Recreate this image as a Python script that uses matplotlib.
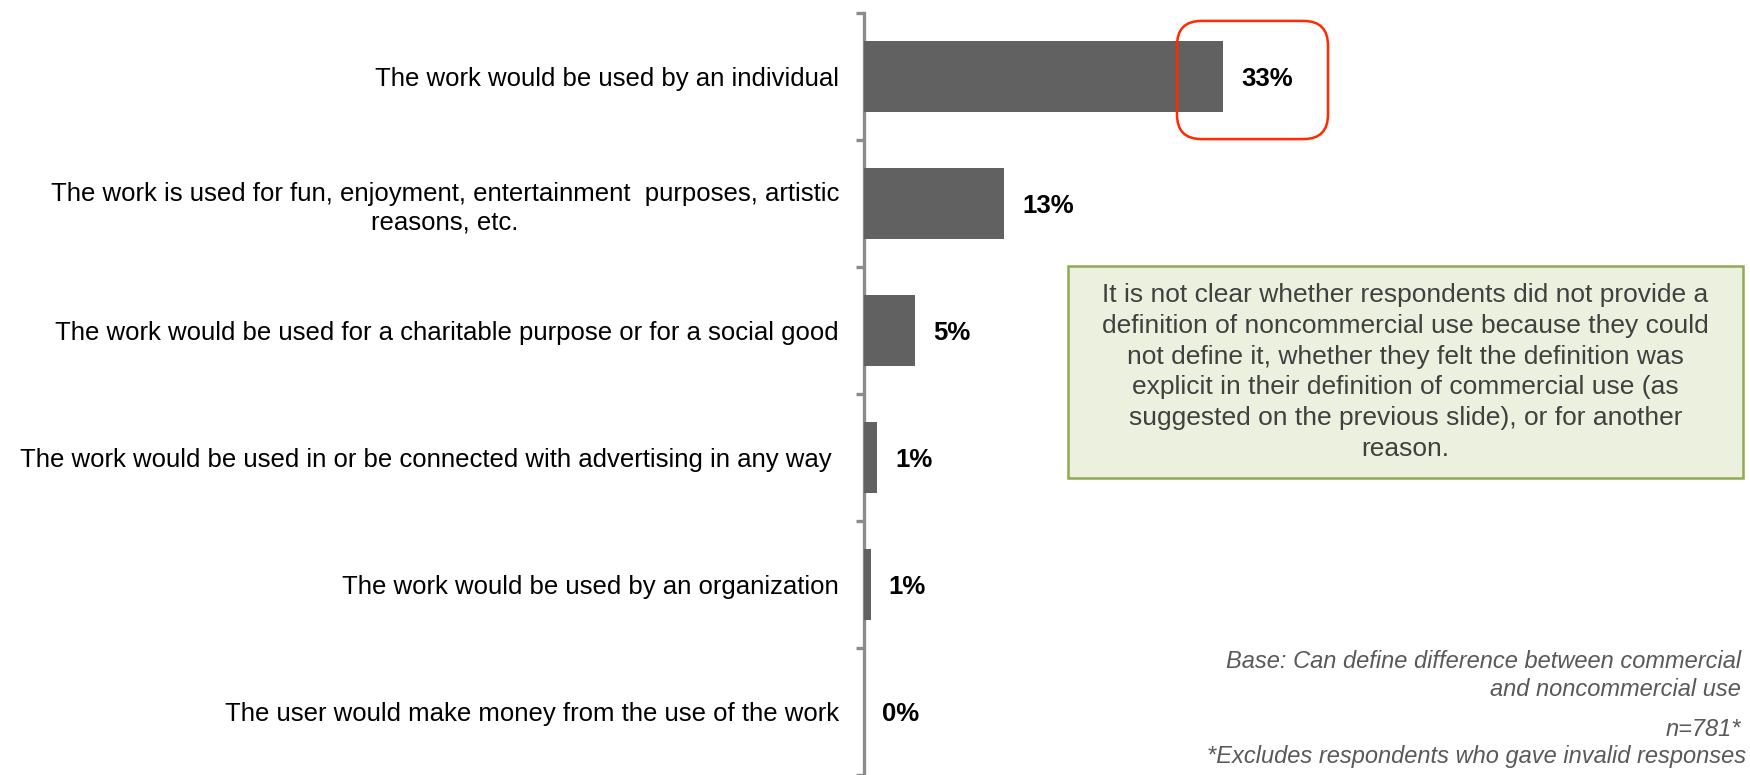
import matplotlib
matplotlib.use("Agg")
import matplotlib.pyplot as plt
from matplotlib.patches import FancyBboxPatch, Rectangle
from matplotlib import font_manager

categories = [
    "The work would be used by an individual",
    "The work is used for fun, enjoyment, entertainment  purposes, artistic\nreasons, etc.",
    "The work would be used for a charitable purpose or for a social good",
    "The work would be used in or be connected with advertising in any way ",
    "The work would be used by an organization",
    "The user would make money from the use of the work",
]
values = [33.0, 12.9, 4.7, 1.2, 0.6, 0.0]
value_labels = ["33%", "13%", "5%", "1%", "1%", "0%"]

note_text = ("It is not clear whether respondents did not provide a\n"
             "definition of noncommercial use because they could\n"
             "not define it, whether they felt the definition was\n"
             "explicit in their definition of commercial use (as\n"
             "suggested on the previous slide), or for another\n"
             "reason.")
base_lines = ["Base: Can define difference between commercial",
              "and noncommercial use"]
n_line = "n=781*"
excl_line = "*Excludes respondents who gave invalid responses"

names = {f.name for f in font_manager.fontManager.ttflist}
narrow = "Liberation Sans Narrow" if "Liberation Sans Narrow" in names else "Liberation Sans"

W, H = 1750, 775
fig = plt.figure(figsize=(W / 100, H / 100), dpi=100)
ax_left = 864 / W
ax_top = 13 / H
ax = fig.add_axes([ax_left, 0.0, 1 - ax_left, 1 - ax_top])

bar_color = "#616161"
y = list(range(len(categories)))
ax.barh(y, values, height=0.56, color=bar_color, zorder=3)
ax.set_ylim(len(categories) - 0.5, -0.5)
px_per_unit = 10.88
ax.set_xlim(0, (W - 864) / px_per_unit)

for s in ["top", "right", "bottom"]:
    ax.spines[s].set_visible(False)
ax.spines["left"].set_color("#8c8c8c")
ax.spines["left"].set_linewidth(2.4)
ax.set_xticks([])
ax.set_yticks(y)
ax.set_yticklabels(categories, family=[narrow, "DejaVu Sans"], fontsize=18.5,
                   color="#000000", linespacing=1.22, multialignment="center")
ax.tick_params(axis="y", which="major", length=0, pad=18)
ax.set_yticks([i - 0.5 for i in range(len(categories) + 1)], minor=True)
ax.tick_params(axis="y", which="minor", length=6, width=2.4, color="#8c8c8c")

for yi, v, lab in zip(y, values, value_labels):
    ax.annotate(lab, xy=(v, yi), xytext=(13, -2), textcoords="offset points",
                ha="left", va="center", fontsize=18.5, fontweight="bold",
                family=[narrow, "DejaVu Sans"], color="#000000")

# red rounded highlight box (figure pixel coords)
red = FancyBboxPatch((1177 / W + 0.012, 1 - 139 / H + 0.027),
                     (1328 - 1177) / W - 0.024, (139 - 21) / H - 0.054,
                     boxstyle="round,pad=0.012,rounding_size=0.014",
                     transform=fig.transFigure, fill=False,
                     edgecolor="#ff2a00", linewidth=1.8, mutation_aspect=W / H)
fig.add_artist(red)

# green note box
gx0, gx1, gy0, gy1 = 1068, 1743, 266, 478
box = Rectangle((gx0 / W, 1 - gy1 / H), (gx1 - gx0) / W, (gy1 - gy0) / H,
                transform=fig.transFigure, facecolor="#ebf1de",
                edgecolor="#8faa52", linewidth=1.8)
fig.add_artist(box)
fig.text((gx0 + gx1) / 2 / W, 1 - (gy0 + gy1) / 2 / H, note_text,
         ha="center", va="center", fontsize=19, family="Liberation Sans",
         color="#404040", linespacing=1.36)

# footnotes
foot_kw = dict(ha="right", va="center", fontsize=17, family="Liberation Sans",
               style="italic", color="#595959")
fig.text(1741 / W, 1 - 661 / H, base_lines[0], **foot_kw)
fig.text(1741 / W, 1 - 689 / H, base_lines[1], **foot_kw)
fig.text(1741 / W, 1 - 730 / H, n_line, **foot_kw)
fig.text(1746 / W, 1 - 756 / H, excl_line, **foot_kw)

fig.savefig("out.png", dpi=100)
